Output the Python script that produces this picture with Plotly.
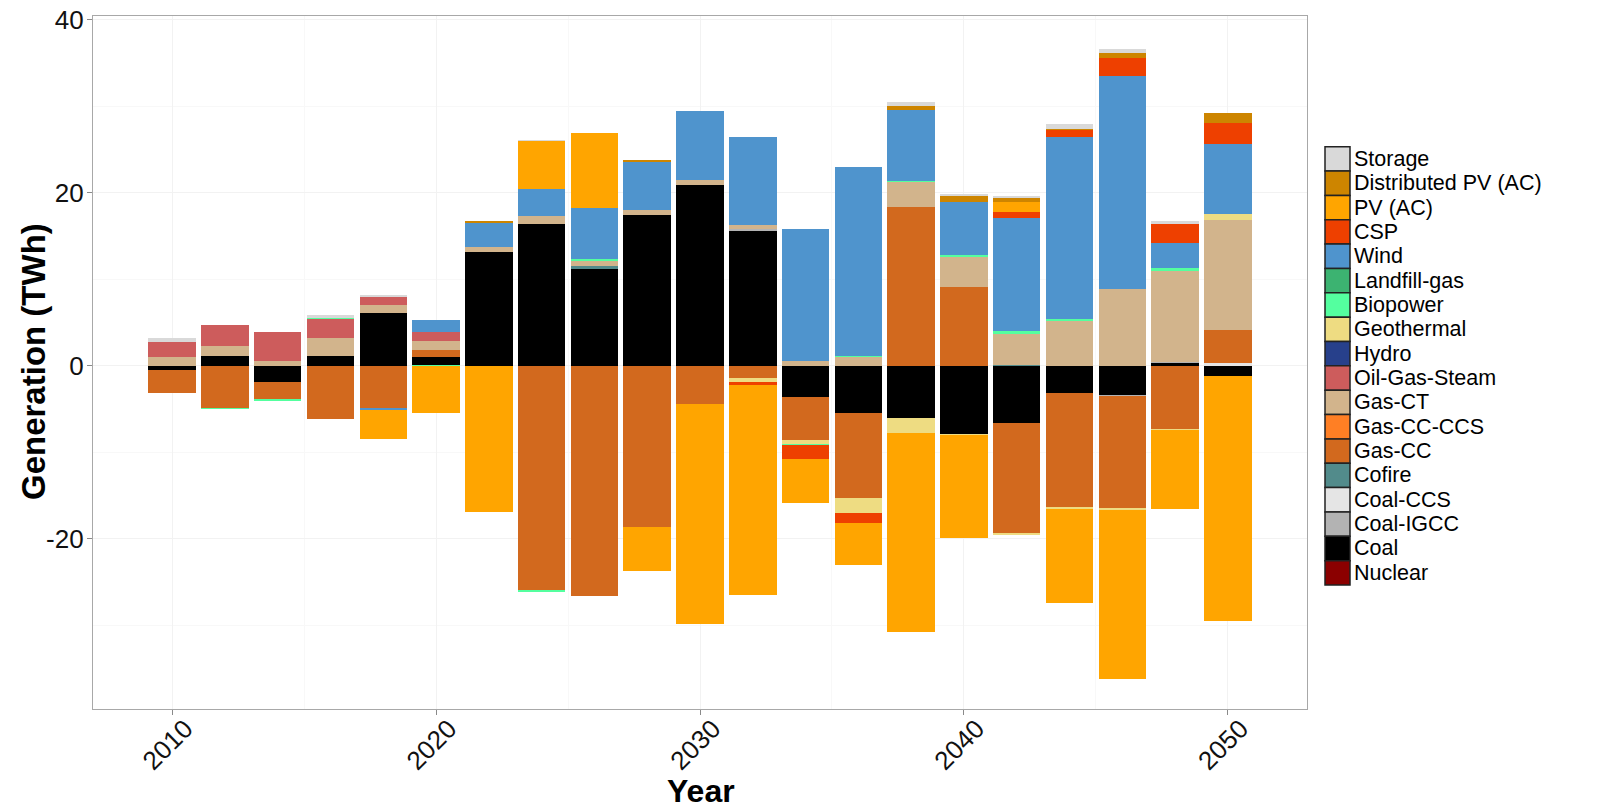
import plotly.graph_objects as go

years = [2010, 2012, 2014, 2016, 2018, 2020, 2022, 2024, 2026, 2028, 2030,
         2032, 2034, 2036, 2038, 2040, 2042, 2044, 2046, 2048, 2050]

# technologies in legend order (top to bottom)
techs = ["Storage", "Distributed PV (AC)", "PV (AC)", "CSP", "Wind", "Landfill-gas",
         "Biopower", "Geothermal", "Hydro", "Oil-Gas-Steam", "Gas-CT", "Gas-CC-CCS",
         "Gas-CC", "Cofire", "Coal-CCS", "Coal-IGCC", "Coal", "Nuclear"]

colors = ["#D9D9D9", "#CD8500", "#FFA500", "#EE4000", "#4F94CD", "#3CB371",
          "#54FF9F", "#EEDC82", "#27408B", "#CD5C5C", "#D2B48C", "#FF7F24",
          "#D2691E", "#528B8B", "#E5E5E5", "#B3B3B3", "#000000", "#8B0000"]

y_tick_vals = [-20, 0, 20, 40]
y_tick_text = ["-20", "0", "20", "40"]
x_tick_vals = [2010, 2020, 2030, 2040, 2050]

nuclear = [0] * 21
coal = [-0.5, 1.16, -1.93, 1.16, 6.09, 0.96, 13.1, 16.38, 11.18, 17.46, 20.84,
        15.53, -3.58, -5.5, -6.09, -7.9, -6.63, -3.16, -3.39, 0.35, -1.23]
coal_igcc = [0, 0, 0, 0, 0, 0, 0, 0, 0, 0, 0,
             0.27, 0, 0, 0, 0, 0, 0, -0.15, 0.1, 0]
coal_ccs = [0, 0, 0, 0, 0, 0, 0, 0, 0, 0, 0,
            0, 0, 0, 0, 0, 0, 0, 0, 0, 0.3]
cofire = [0, 0, 0, 0, 0, 0, 0, 0, 0.38, 0, 0,
          0, 0, 0, 0, 0, 0.1, 0, 0, 0, 0]
gas_cc = [-2.66, -4.9, -2.0, -6.16, -5.0, 0.85, 0, -26.0, -26.67, -18.61, -4.43,
          -1.47, -5.0, -9.8, 18.3, 9.13, -12.83, -13.29, -13.03, -7.32, 3.86]
gas_cc_ccs = [0] * 21
gas_ct = [1.04, 1.11, 0.58, 2.0, 0.96, 1.0, 0.6, 0.88, 0.58, 0.54, 0.66,
          0.5, 0.5, 1.06, 3.0, 3.39, 3.56, 5.2, 8.87, 10.6, 12.72]
oil_gas_steam = [1.73, 2.43, 3.27, 2.31, 0.93, 1.04, 0, 0, 0, 0, 0,
                 0, 0, 0, 0, 0, 0, 0, 0, 0, 0]
hydro = [0] * 21
geothermal = [0, 0, 0, 0, 0, 0, 0, 0, 0, 0, 0,
              -0.46, -0.5, -1.77, -1.69, -0.12, -0.12, -0.12, -0.12, -0.15, 0.69]
biopower = [0, -0.08, -0.1, 0.15, 0, -0.08, 0, -0.1, 0.19, 0, 0,
            0, -0.08, 0.12, 0.1, 0.31, 0.39, 0.2, 0, 0.2, 0]
landfill_gas = [0] * 21
wind = [0, 0, 0, 0, -0.1, 1.43, 2.9, 3.17, 5.86, 5.62, 7.9,
        10.2, 15.3, 21.85, 8.16, 6.05, 13.03, 21.1, 24.58, 2.9, 8.1]
csp = [0, 0, 0, 0, 0, 0, 0, 0, 0, 0, 0,
       -0.27, -1.6, -1.11, 0, 0, 0.64, 0.78, 2.19, 2.23, 2.45]
pv = [0, 0, 0, 0, -3.4, -5.4, -16.9, 5.57, 8.67, -5.1, -25.43,
      -24.3, -5.1, -4.82, -22.97, -11.9, 1.16, -10.9, -19.5, -9.1, -28.25]
dpv = [0, 0, 0, 0, 0, 0, 0.1, 0, 0, 0.16, 0,
       0, 0, 0, 0.42, 0.85, 0.58, 0.15, 0.5, 0, 1.16]
storage = [0.43, 0, 0, 0.2, 0.2, 0, 0, 0.1, 0, 0, 0,
           0, 0, 0, 0.46, 0.12, 0.05, 0.5, 0.46, 0.38, 0]

values = {
    "Storage": storage, "Distributed PV (AC)": dpv, "PV (AC)": pv, "CSP": csp,
    "Wind": wind, "Landfill-gas": landfill_gas, "Biopower": biopower,
    "Geothermal": geothermal, "Hydro": hydro, "Oil-Gas-Steam": oil_gas_steam,
    "Gas-CT": gas_ct, "Gas-CC-CCS": gas_cc_ccs, "Gas-CC": gas_cc, "Cofire": cofire,
    "Coal-CCS": coal_ccs, "Coal-IGCC": coal_igcc, "Coal": coal, "Nuclear": nuclear,
}

FONT = "Liberation Sans, Arial, sans-serif"
W, H = 1601, 811
L, R, T, B = 93, 1307, 16, 709

fig = go.Figure()
# stack from zero outward: Nuclear first, Storage last
for name, col in reversed(list(zip(techs, colors))):
    fig.add_trace(go.Bar(
        x=years, y=values[name], name=name, width=1.8,
        marker=dict(color=col, line=dict(width=0)),
        showlegend=False,
    ))

def px_x(p):
    return (p - L) / (R - L)

def px_y(p):
    return (B - p) / (B - T)

# custom legend (ggplot-style big keys)
key_left, key_w, key_top, key_h = 1325, 25, 146.7, 24.35
shapes = []
annotations = []
for i, (name, col) in enumerate(zip(techs, colors)):
    y0 = key_top + i * key_h
    shapes.append(dict(
        type="rect", xref="paper", yref="paper",
        x0=px_x(key_left), x1=px_x(key_left + key_w),
        y0=px_y(y0 + key_h), y1=px_y(y0),
        fillcolor=col, line=dict(color="#222222", width=1.5), layer="above",
    ))
    annotations.append(dict(
        xref="paper", yref="paper", x=px_x(key_left + key_w + 2),
        y=px_y(y0 + key_h / 2), text=name, showarrow=False,
        xanchor="left", yanchor="middle",
        font=dict(family=FONT, size=21.5, color="#000000"),
    ))

# axis titles
annotations.append(dict(
    xref="paper", yref="paper", x=px_x(33), y=px_y(362),
    text="<b>Generation (TWh)</b>", textangle=-90, showarrow=False,
    xanchor="center", yanchor="middle",
    font=dict(family=FONT, size=33, color="#000000"),
))
annotations.append(dict(
    xref="paper", yref="paper", x=px_x(701), y=px_y(791),
    text="<b>Year</b>", showarrow=False,
    xanchor="center", yanchor="middle",
    font=dict(family=FONT, size=32, color="#000000"),
))

fig.update_layout(
    width=W, height=H,
    barmode="relative", bargap=0,
    plot_bgcolor="white", paper_bgcolor="white",
    margin=dict(l=L, r=W - R, t=T, b=H - B, autoexpand=False),
    shapes=shapes, annotations=annotations,
    showlegend=False,
    font=dict(family=FONT, color="#111111"),
)
fig.update_xaxes(
    range=[2007.0, 2053.0], tickmode="array", tickvals=x_tick_vals,
    tickangle=-45, tickfont=dict(size=26, color="#111111"),
    ticks="outside", ticklen=5, tickcolor="#8a8a8a",
    ticklabelstandoff=-12, ticklabelshift=13,
    showgrid=True, gridcolor="#F2F2F2", gridwidth=1,
    minor=dict(dtick=5, tick0=2005, showgrid=True, gridcolor="#F8F8F8", ticks=""),
    showline=True, linecolor="#A8A8A8", linewidth=1.3, mirror=True,
    zeroline=False,
)
fig.update_yaxes(
    range=[-39.7, 40.44], tickmode="array", tickvals=y_tick_vals, ticktext=y_tick_text,
    tickfont=dict(size=26, color="#111111"),
    ticks="outside", ticklen=5, tickcolor="#8a8a8a",
    ticklabelstandoff=-2,
    showgrid=True, gridcolor="#F2F2F2", gridwidth=1,
    minor=dict(dtick=10, tick0=0, showgrid=True, gridcolor="#F8F8F8", ticks=""),
    showline=True, linecolor="#A8A8A8", linewidth=1.3, mirror=True,
    zeroline=False,
)

fig.write_html(
    "out.html",
    config={"displayModeBar": False},
    post_script="document.body.style.margin='0';document.body.style.overflow='hidden';",
)
